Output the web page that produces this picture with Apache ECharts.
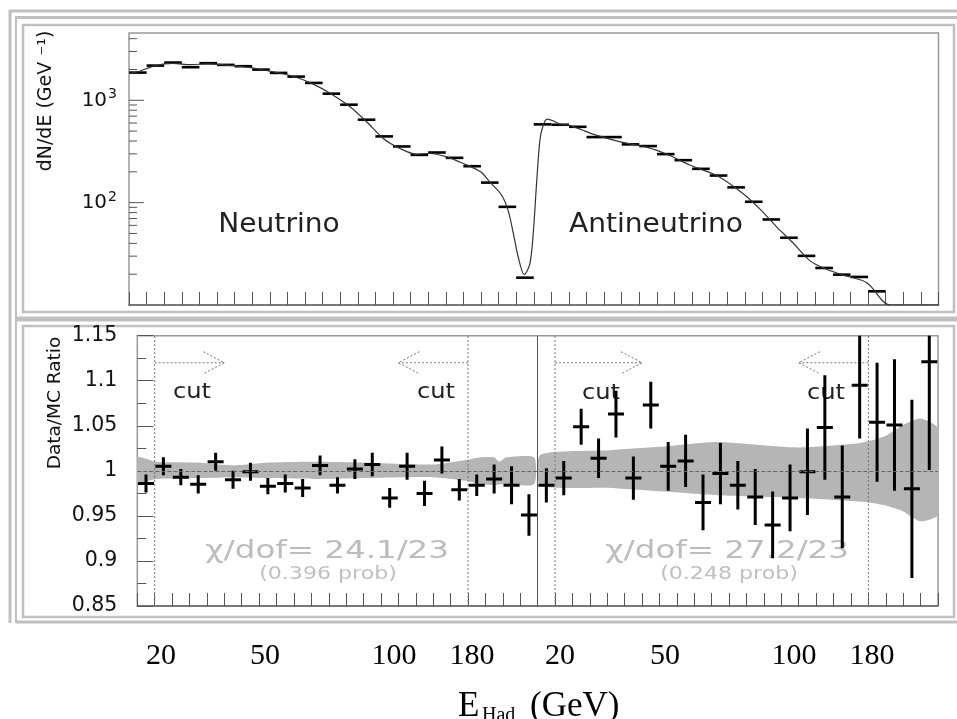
<!DOCTYPE html>
<html>
<head>
<meta charset="utf-8">
<script src="https://cdn.jsdelivr.net/npm/echarts@6.0.0/dist/echarts.min.js"></script>
<style>
  html, body { margin: 0; padding: 0; background: #fff; }
  #main { width: 957px; height: 719px; }
</style>
</head>
<body>
<div id="main"></div>
<script>
// 46 E_Had bins: 0-22 neutrino, 23-45 antineutrino
var specValues = [1865, 2183, 2337, 2106, 2305, 2218, 2153, 1995, 1852, 1704, 1478, 1161, 906, 646, 444,
  354, 293, 309, 274, 227, 157, 91, 18.5,
  582, 577, 551, 437, 437, 371, 357, 298, 260, 214, 184, 141, 102, 68.5, 45.4, 30.2, 23, 19.8, 18.8, 13.6]

// MC curve (x in bin units)
var curveX = [0, 0.5, 1.5, 2.5, 3.5, 4.5, 5.5, 6.5, 7.5, 8.5, 9.5, 10.5, 11.42, 12.56, 13.5, 14.45, 15.4,
  16.35, 17.1, 18.05, 19.0, 19.98, 20.51, 21.18, 21.55, 21.84, 22.12, 22.46, 22.78, 22.97, 23.16, 23.35,
  23.54, 23.76, 24.1, 24.49, 24.96, 25.63, 26.5, 27.92, 29.5, 30.5, 31.9, 33.5, 34.9, 35.9, 36.8, 37.7,
  38.7, 39.6, 40.6, 41.93, 43.26, 46]
var curveY = [1830, 1900, 2180, 2290, 2230, 2270, 2210, 2130, 2000, 1850, 1680, 1430, 1171, 865, 617, 424, 338,
  297, 302, 280, 241, 200, 159, 118, 83, 50, 29.3, 19.8, 25.2, 50, 154, 408,
  573, 656, 631, 586, 573, 523, 460, 393, 345, 300, 232, 180, 122, 85, 58, 41,
  27, 22.5, 19.6, 16.5, 10, 10]

var majorLogTicks = [100, 1000]
var minorLogTicks = [20, 30, 40, 50, 60, 70, 80, 90, 200, 300, 400, 500, 600, 700, 800, 900, 2000, 3000, 4000]

// Data/MC ratio per bin
var ratioValues = [0.986, 1.005, 0.993, 0.985, 1.010, 0.990, 0.999, 0.983, 0.986, 0.981, 1.006, 0.984, 1.002,
  1.007, 0.970, 1.005, 0.975, 1.012, 0.979, 0.984, 0.991, 0.984, 0.951,
  0.984, 0.992, 1.049, 1.014, 1.063, 0.992, 1.073, 1.005, 1.011, 0.965, 0.997, 0.984, 0.971, 0.940, 0.970,
  0.999, 1.048, 0.971, 1.095, 1.054, 1.051, 0.980, 1.121]
var ratioErrors = [0.010, 0.010, 0.009, 0.010, 0.010, 0.010, 0.010, 0.009, 0.010, 0.010, 0.011, 0.009, 0.011,
  0.013, 0.011, 0.015, 0.014, 0.015, 0.012, 0.012, 0.016, 0.021, 0.023,
  0.019, 0.019, 0.020, 0.022, 0.026, 0.024, 0.026, 0.027, 0.029, 0.031, 0.034, 0.027, 0.031, 0.037, 0.037,
  0.048, 0.058, 0.057, 0.059, 0.066, 0.073, 0.099, 0.120]

// MC systematic band
var bandNuX = [0, 1.1, 3.6, 5.5, 7.4, 10.3, 13.2, 17, 18.9, 19.7, 20.5, 20.8, 21.2, 22.8]
var bandNuLo = [0.987, 0.991, 0.992, 0.993, 0.992, 0.991, 0.992, 0.993, 0.989, 0.985, 0.984, 0.985, 0.985, 0.985]
var bandNuHi = [1.015, 1.010, 1.009, 1.006, 1.009, 1.010, 1.009, 1.007, 1.012, 1.015, 1.015, 1.010, 1.015, 1.015]
var bandNubarX = [23.16, 27.2, 30.25, 33.3, 37.9, 41.55, 42.9, 44.0, 45.0, 46]
var bandNubarLo = [0.984, 0.981, 0.977, 0.973, 0.970, 0.966, 0.962, 0.955, 0.944, 0.951]
var bandNubarHi = [1.018, 1.023, 1.027, 1.032, 1.026, 1.031, 1.038, 1.051, 1.058, 1.047]

// cuts
var cutEdges = [1, 19, 24, 42]
var cutArrowTips = [5, 15, 29, 38]
var cutArrowLevel = 1.12

var energyLabels = ['20', '50', '100', '180', '20', '50', '100', '180']
var energyLabelX = [161, 265, 394, 472, 560, 665, 794, 872]

var sans = 'DejaVu Sans'
var serif = 'Liberation Serif'
var frameGray = '#c0c0c0'

var chart = echarts.init(document.getElementById('main'))

function frameLine (x1, y1, x2, y2, w) {
  return { type: 'line', silent: true, shape: { x1: x1, y1: y1, x2: x2, y2: y2 }, style: { stroke: frameGray, lineWidth: w } }
}
function label (txt, x, y, size, opts) {
  opts = opts || {}
  return {
    type: 'text', silent: true, x: x, y: y, scaleX: opts.sx || 1, rotation: opts.rot || 0,
    style: { text: txt, font: size + 'px "' + (opts.family || sans) + '"', fill: opts.color || '#111',
      align: opts.align || 'center', verticalAlign: 'middle' }
  }
}

var graphics = [
  frameLine(10, 10, 10, 623, 3),
  frameLine(9, 11, 957, 11, 3),
  frameLine(16, 17, 16, 623, 2),
  frameLine(15, 17.5, 957, 17.5, 3),
  { type: 'rect', silent: true, shape: { x: 23, y: 25, width: 931, height: 287 }, style: { fill: 'none', stroke: frameGray, lineWidth: 2.5 } },
  frameLine(16, 319, 957, 319, 5),
  { type: 'rect', silent: true, shape: { x: 23, y: 326, width: 931, height: 291 }, style: { fill: 'none', stroke: frameGray, lineWidth: 2.5 } },
  frameLine(16, 622, 957, 622, 3),
  label('dN/dE (GeV \u207B\u00B9)', 46, 101, 19, { rot: Math.PI / 2 }),
  label('Data/MC Ratio', 55, 403, 18.5, { rot: Math.PI / 2 }),
  label('Neutrino', 279, 225, 26, { sx: 1.08, color: '#222' }),
  label('Antineutrino', 656, 225, 26, { sx: 1.08, color: '#222' }),
  label('cut', 192, 392, 22, { sx: 1.1, color: '#222' }),
  label('cut', 436, 392, 22, { sx: 1.1, color: '#222' }),
  label('cut', 601, 393, 22, { sx: 1.1, color: '#222' }),
  label('cut', 826, 393, 22, { sx: 1.1, color: '#222' }),
  label('\u03C7/dof= 24.1/23', 327, 551, 25, { sx: 1.3, color: '#bcbcbc' }),
  label('(0.396 prob)', 328, 575, 17, { sx: 1.3, color: '#c0c0c0' }),
  label('\u03C7/dof= 27.2/23', 727, 551, 25, { sx: 1.3, color: '#bcbcbc' }),
  label('(0.248 prob)', 729, 575, 17, { sx: 1.3, color: '#c0c0c0' }),
  label('E', 458, 707, 35, { family: serif, align: 'left', color: '#000' }),
  label('Had', 482, 716, 20, { family: serif, align: 'left', color: '#000' }),
  label('(GeV)', 530, 707, 35, { family: serif, align: 'left', color: '#000' })
]
energyLabels.forEach(function (t, i) {
  graphics.push(label(t, energyLabelX[i], 656, 30, { family: serif, color: '#000' }))
})

var tickStyle = { color: '#555', width: 1 }

var option = {
  animation: false,
  backgroundColor: '#fff',
  grid: [
    { left: 129, top: 33, width: 809.5, height: 272, show: true, borderColor: '#999', borderWidth: 1.5 },
    { left: 137.3, top: 335.7, width: 800.7, height: 270.3, show: true, borderColor: '#999', borderWidth: 1.5 }
  ],
  xAxis: [0, 1].map(function (g) {
    return {
      type: 'value', gridIndex: g, min: 0, max: 46, interval: 1,
      axisLabel: { show: false },
      axisTick: { inside: true, length: 13, lineStyle: tickStyle },
      axisLine: { lineStyle: { color: '#666', width: 1.5 } },
      splitLine: { show: false }
    }
  }),
  yAxis: [{
    type: 'log', gridIndex: 0, logBase: 10, min: 10, max: 4545,
    axisLine: { show: false },
    axisTick: { show: false },
    splitLine: { show: false },
    axisLabel: {
      margin: 12, fontSize: 20, fontFamily: sans, color: '#111',
      formatter: function (v) {
        var e = Math.round(Math.log10(v))
        if (e < 2 || Math.abs(v - Math.pow(10, e)) > 1e-6 * v) return ''
        return '{b|10}{s|' + e + '}'
      },
      rich: {
        b: { fontSize: 20, fontFamily: sans, color: '#111' },
        s: { fontSize: 14, fontFamily: sans, color: '#111', padding: [0, 0, 11, 1] }
      }
    }
  }, {
    type: 'value', gridIndex: 1, min: 0.85, max: 1.15, interval: 0.05,
    axisLine: { show: false },
    axisTick: { inside: true, length: 16, lineStyle: tickStyle },
    minorTick: { show: true, splitNumber: 2, length: 9, lineStyle: tickStyle },
    splitLine: { show: false },
    axisLabel: { margin: 20, fontSize: 20.5, fontFamily: sans, color: '#111' }
  }],
  series: [
    {
      // spectrum bins
      type: 'custom', xAxisIndex: 0, yAxisIndex: 0, clip: true,
      data: specValues.map(function (v, i) { return [i, v] }),
      encode: { x: 0, y: 1 },
      renderItem: function (params, api) {
        var i = api.value(0), v = api.value(1)
        var a = api.coord([i, v]), b = api.coord([i + 1, v])
        return { type: 'line', shape: { x1: a[0], y1: a[1], x2: b[0], y2: b[1] }, style: { stroke: '#000', lineWidth: 2.6 } }
      }
    },
    {
      type: 'line', xAxisIndex: 0, yAxisIndex: 0, showSymbol: false, smooth: 0.3, clip: true,
      data: curveX.map(function (x, i) { return [x, curveY[i]] }),
      lineStyle: { color: '#333', width: 1.2 }
    },
    {
      // log axis ticks
      type: 'custom', xAxisIndex: 0, yAxisIndex: 0,
      data: majorLogTicks.map(function (v) { return [0, v, 15] }).concat(minorLogTicks.map(function (v) { return [0, v, 8] })),
      encode: { x: 0, y: 1 },
      renderItem: function (params, api) {
        var p = api.coord([0, api.value(1)])
        return { type: 'line', shape: { x1: p[0], y1: p[1], x2: p[0] + api.value(2), y2: p[1] }, style: { stroke: '#555', lineWidth: 1 } }
      }
    },
    {
      // MC band
      type: 'custom', xAxisIndex: 1, yAxisIndex: 1, clip: true,
      data: [[0], [1]],
      renderItem: function (params, api) {
        var xs = params.dataIndex === 0 ? bandNuX : bandNubarX
        var lo = params.dataIndex === 0 ? bandNuLo : bandNubarLo
        var hi = params.dataIndex === 0 ? bandNuHi : bandNubarHi
        var pts = []
        xs.forEach(function (x, j) { pts.push(api.coord([x, hi[j]])) })
        for (var j = xs.length - 1; j >= 0; j--) pts.push(api.coord([xs[j], lo[j]]))
        return { type: 'polygon', shape: { points: pts, smooth: 0.2 }, style: { fill: '#b5b5b5' } }
      }
    },
    {
      type: 'line', xAxisIndex: 1, yAxisIndex: 1, data: [], silent: true,
      markLine: {
        silent: true, symbol: 'none', label: { show: false },
        data: [
          { yAxis: 1, lineStyle: { type: 'dashed', color: '#666', width: 1 } },
          { xAxis: 23, lineStyle: { type: 'solid', color: '#555', width: 1 } }
        ]
      }
    },
    {
      // cut lines and arrows
      type: 'custom', xAxisIndex: 1, yAxisIndex: 1,
      data: cutEdges.map(function (e, i) { return [e, cutArrowTips[i]] }),
      encode: { x: 0 },
      renderItem: function (params, api) {
        var e = api.value(0), t = api.value(1), dir = t > e ? 1 : -1
        var p0 = api.coord([e, 0.85]), p1 = api.coord([e, 1.15])
        var a0 = api.coord([e, cutArrowLevel]), a1 = api.coord([t, cutArrowLevel])
        var st = { stroke: '#777', lineWidth: 1, lineDash: [2, 2], fill: 'none' }
        return {
          type: 'group',
          children: [
            { type: 'line', shape: { x1: p0[0], y1: p0[1], x2: p1[0], y2: p1[1] }, style: st },
            { type: 'line', shape: { x1: a0[0], y1: a0[1], x2: a1[0], y2: a1[1] }, style: st },
            { type: 'polyline', shape: { points: [[a1[0] - dir * 21, a1[1] - 11], [a1[0], a1[1]], [a1[0] - dir * 21, a1[1] + 11]] }, style: st }
          ]
        }
      }
    },
    {
      // data/MC ratio crosses
      type: 'custom', xAxisIndex: 1, yAxisIndex: 1, clip: true,
      data: ratioValues.map(function (v, i) { return [i + 0.5, v, ratioErrors[i]] }),
      encode: { x: 0, y: 1 },
      renderItem: function (params, api) {
        var x = api.value(0), v = api.value(1), e = api.value(2)
        var lo = api.coord([x, v - e]), hi = api.coord([x, v + e])
        var l = api.coord([x - 0.46, v]), r = api.coord([x + 0.46, v])
        var st = { stroke: '#000', lineWidth: 3 }
        return {
          type: 'group',
          children: [
            { type: 'line', shape: { x1: lo[0], y1: lo[1], x2: hi[0], y2: hi[1] }, style: st },
            { type: 'line', shape: { x1: l[0], y1: l[1], x2: r[0], y2: r[1] }, style: st }
          ]
        }
      }
    }
  ],
  graphic: graphics
}

chart.setOption(option)
</script>
</body>
</html>
